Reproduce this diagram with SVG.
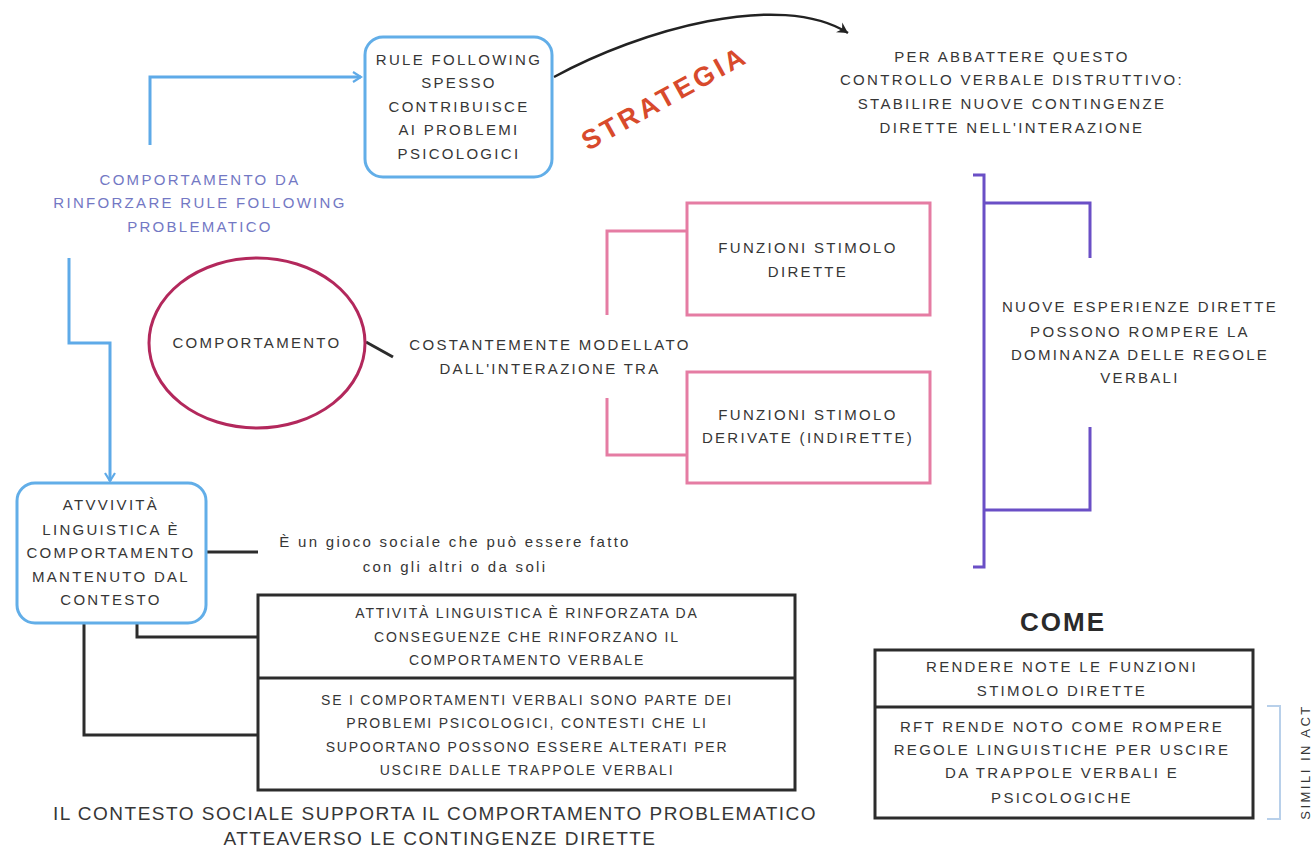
<svg xmlns="http://www.w3.org/2000/svg" width="1315" height="853" viewBox="0 0 1315 853">
<style>
text{font-family:"Liberation Sans",Arial,sans-serif;fill:#363636;text-anchor:middle}
.t{font-size:15px;letter-spacing:2.3px}
.s{font-size:14px;letter-spacing:1.8px}
.lav{fill:#7378c4}
.big{font-size:19px;letter-spacing:1.5px}
.hdr{font-size:26px;font-weight:bold;letter-spacing:2px;fill:#2a2a2a}
.strat{font-size:27px;font-weight:bold;letter-spacing:3.5px;fill:#d84a2c}
.side{font-size:13px;letter-spacing:2.5px}
.bluebox{fill:#fff;stroke:#62aee8;stroke-width:3}
.blk{fill:none;stroke:#2c2c2c;stroke-width:3}
.pink{fill:none;stroke:#e57ca3;stroke-width:3}
.purp{fill:none;stroke:#6a4fc6;stroke-width:3}
.bl{fill:none;stroke:#5eaae8;stroke-width:3}
</style>
<defs>
<marker id="ab" viewBox="0 0 12 12" refX="10" refY="6" markerWidth="12" markerHeight="12" markerUnits="userSpaceOnUse" orient="auto">
<path d="M2,1 L10,6 L2,11" fill="none" stroke="#5eaae8" stroke-width="2.2"/>
</marker>
<marker id="ak" viewBox="0 0 12 12" refX="10" refY="6" markerWidth="14" markerHeight="14" markerUnits="userSpaceOnUse" orient="auto">
<path d="M1,1 L10,6 L1,11 L4,6 Z" fill="#222"/>
</marker>
</defs>
<rect width="1315" height="853" fill="#fff"/>

<g id="connectors">
<path class="bl" d="M150,145 V77 H361" marker-end="url(#ab)"/>
<path class="bl" d="M69,258 V343 H110 V481" marker-end="url(#ab)"/>
<path d="M554,77 C640,30 780,-10 848,33" fill="none" stroke="#222" stroke-width="2.5" marker-end="url(#ak)"/>
<path d="M366,342 L393,357" stroke="#2c2c2c" stroke-width="3"/>
<path d="M206,552 H258" stroke="#2c2c2c" stroke-width="3"/>
<path class="blk" d="M137,623 V637 H258"/>
<path class="blk" d="M84,623 V735 H258"/>
<path class="pink" d="M687,231 H607 V315"/>
<path class="pink" d="M607,398 V455 H687"/>
<path class="purp" d="M973,175 H984 V567 H973"/>
<path class="purp" d="M984,203 H1090 V258"/>
<path class="purp" d="M1090,427 V510 H984"/>
<path d="M1267,706 H1280 V819 H1267" fill="none" stroke="#b8d0ea" stroke-width="2"/>
</g>

<g id="rule-following">
<rect class="bluebox" x="365" y="37" width="187" height="140" rx="18"/>
<text class="t" x="459" y="65">RULE FOLLOWING</text>
<text class="t" x="459" y="88">SPESSO</text>
<text class="t" x="459" y="112">CONTRIBUISCE</text>
<text class="t" x="459" y="135">AI PROBLEMI</text>
<text class="t" x="459" y="159">PSICOLOGICI</text>
</g>

<g id="strategia">
<text class="strat" transform="translate(669,106) rotate(-29)" x="0" y="0">STRATEGIA</text>
</g>

<g id="per-abbattere">
<text class="t" x="1012" y="62">PER ABBATTERE QUESTO</text>
<text class="t" x="1012" y="85">CONTROLLO VERBALE DISTRUTTIVO:</text>
<text class="t" x="1012" y="109">STABILIRE NUOVE CONTINGENZE</text>
<text class="t" x="1012" y="133">DIRETTE NELL'INTERAZIONE</text>
</g>

<g id="comportamento-da-rinforzare">
<text class="t lav" x="200" y="185">COMPORTAMENTO DA</text>
<text class="t lav" x="200" y="208">RINFORZARE RULE FOLLOWING</text>
<text class="t lav" x="200" y="232">PROBLEMATICO</text>
</g>

<g id="comportamento">
<ellipse cx="257" cy="343" rx="108" ry="85" fill="#fff" stroke="#b3285c" stroke-width="3"/>
<text class="t" x="257" y="348">COMPORTAMENTO</text>
</g>

<g id="costantemente">
<text class="t" x="550" y="350">COSTANTEMENTE MODELLATO</text>
<text class="t" x="550" y="374">DALL'INTERAZIONE TRA</text>
</g>

<g id="funzioni-dirette">
<rect class="pink" x="687" y="203" width="243" height="112"/>
<text class="t" x="808" y="253">FUNZIONI STIMOLO</text>
<text class="t" x="808" y="277">DIRETTE</text>
</g>

<g id="funzioni-derivate">
<rect class="pink" x="687" y="372" width="243" height="111"/>
<text class="t" x="808" y="420">FUNZIONI STIMOLO</text>
<text class="t" x="808" y="443">DERIVATE (INDIRETTE)</text>
</g>

<g id="nuove-esperienze">
<text class="t" x="1140" y="312">NUOVE ESPERIENZE DIRETTE</text>
<text class="t" x="1140" y="337">POSSONO ROMPERE LA</text>
<text class="t" x="1140" y="360">DOMINANZA DELLE REGOLE</text>
<text class="t" x="1140" y="383">VERBALI</text>
</g>

<g id="attivita-linguistica">
<rect class="bluebox" x="17" y="483" width="189" height="140" rx="18"/>
<text class="t" x="111" y="510">ATVVIVITÀ</text>
<text class="t" x="111" y="535">LINGUISTICA È</text>
<text class="t" x="111" y="558">COMPORTAMENTO</text>
<text class="t" x="111" y="582">MANTENUTO DAL</text>
<text class="t" x="111" y="605">CONTESTO</text>
</g>

<g id="gioco-sociale">
<text class="t" x="455" y="547">È un gioco sociale che può essere fatto</text>
<text class="t" x="455" y="572">con gli altri o da soli</text>
</g>

<g id="rinforzata">
<rect class="blk" x="258" y="595" width="537" height="195" fill="#fff"/>
<line x1="258" y1="678" x2="795" y2="678" stroke="#2c2c2c" stroke-width="3"/>
<text class="s" x="527" y="618">ATTIVITÀ LINGUISTICA È RINFORZATA DA</text>
<text class="s" x="527" y="642">CONSEGUENZE CHE RINFORZANO IL</text>
<text class="s" x="527" y="665">COMPORTAMENTO VERBALE</text>
<text class="s" x="527" y="705">SE I COMPORTAMENTI VERBALI SONO PARTE DEI</text>
<text class="s" x="527" y="728">PROBLEMI PSICOLOGICI, CONTESTI CHE LI</text>
<text class="s" x="527" y="752">SUPOORTANO POSSONO ESSERE ALTERATI PER</text>
<text class="s" x="527" y="775">USCIRE DALLE TRAPPOLE VERBALI</text>
</g>

<g id="contesto-sociale">
<text class="big" x="435" y="820">IL CONTESTO SOCIALE SUPPORTA IL COMPORTAMENTO PROBLEMATICO</text>
<text class="big" x="440" y="845">ATTEAVERSO LE CONTINGENZE DIRETTE</text>
</g>

<g id="come">
<text class="hdr" x="1063" y="631">COME</text>
<rect class="blk" x="875" y="650" width="378" height="168"/>
<line x1="875" y1="707" x2="1253" y2="707" stroke="#2c2c2c" stroke-width="3"/>
<text class="t" x="1062" y="672">RENDERE NOTE LE FUNZIONI</text>
<text class="t" x="1062" y="696">STIMOLO DIRETTE</text>
<text class="t" x="1062" y="732">RFT RENDE NOTO COME ROMPERE</text>
<text class="t" x="1062" y="755">REGOLE LINGUISTICHE PER USCIRE</text>
<text class="t" x="1062" y="778">DA TRAPPOLE VERBALI E</text>
<text class="t" x="1062" y="803">PSICOLOGICHE</text>
</g>

<g id="simili-in-act">
<text class="side" transform="translate(1310,762) rotate(-90)" x="0" y="0">SIMILI IN ACT</text>
</g>
</svg>
